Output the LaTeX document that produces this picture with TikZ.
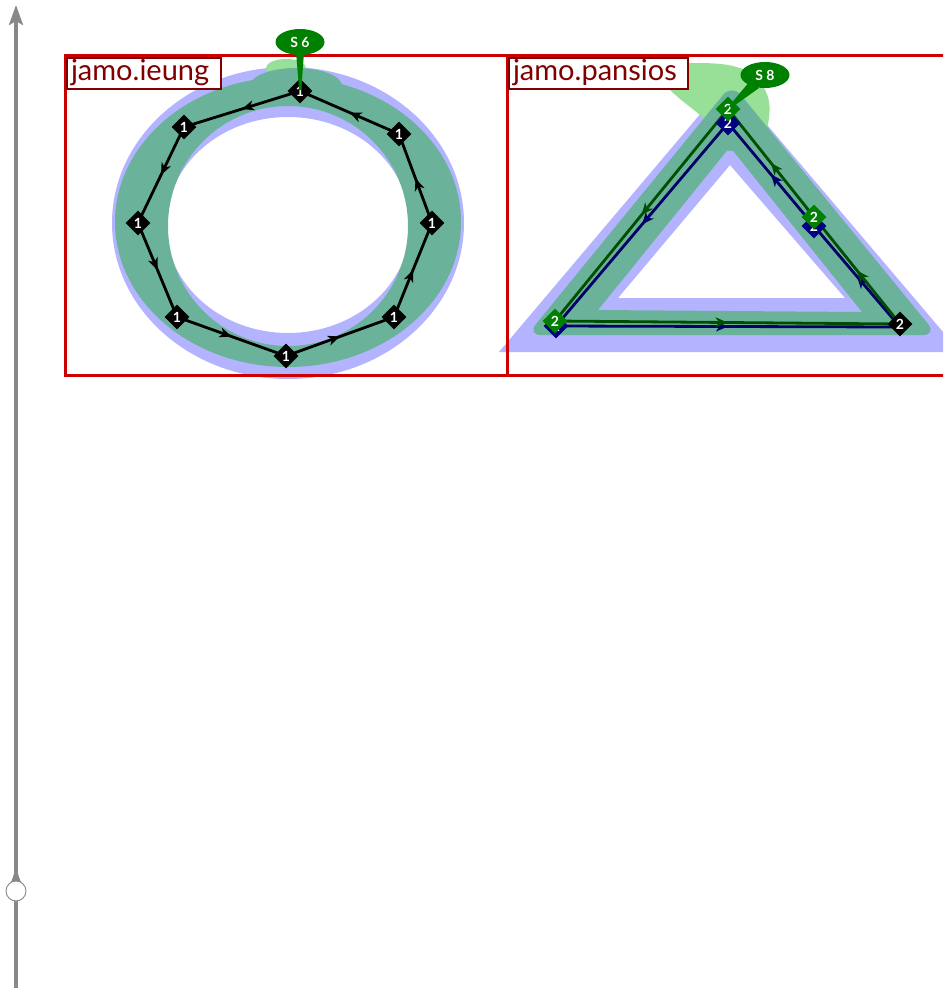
\documentclass[tikz,border=0pt]{standalone}
\usepackage{fontspec}
\setmainfont{Lato}
\usetikzlibrary{shapes.geometric,arrows.meta,decorations.markings}
\definecolor{glblue}{HTML}{B3B3FF}
\definecolor{glteal}{HTML}{6AB39A}
\definecolor{gllight}{HTML}{98E098}
\definecolor{boxred}{HTML}{CC0000}
\definecolor{lblred}{HTML}{800000}
\definecolor{sgreen}{HTML}{008000}
\definecolor{pgreen}{HTML}{004F00}
\definecolor{pnavy}{HTML}{000066}
\definecolor{dnavy}{HTML}{000080}
\definecolor{axisgray}{HTML}{888888}
\begin{document}
\begin{tikzpicture}[x=1pt,y=-1pt,
  glyphbox/.style={draw=boxred, line width=3pt},
  namelbl/.style={draw=lblred, line width=2pt, fill=white, text=lblred, anchor=north west,
    inner xsep=4pt, inner ysep=0pt, minimum height=31pt, align=left,
    text height=21pt, text depth=7pt, font=\fontsize{29}{29}\selectfont},
  ptnode/.style={diamond, minimum size=25pt, inner sep=0pt, text=white,
    font=\fontsize{14}{14}\selectfont\bfseries},
  seg/.style={line width=2.8pt, postaction={decorate},
    decoration={markings, mark=at position 0.5 with {\arrow{Stealth[length=12pt,width=10pt,inset=3.5pt]}}}},
  callout/.style={ellipse, fill=sgreen, text=white, font=\fontsize{14}{14}\selectfont\bfseries,
    minimum width=49pt, minimum height=26pt, inner sep=0pt}
]
\useasboundingbox (0,0) rectangle (943,988);
\clip (0,0) rectangle (943,988);

% ---------- axis ----------
\coordinate (axbot) at (16,988);
\coordinate (axtop) at (16,5);
\draw[axisgray, line width=3.2pt, -{Stealth[length=20pt,width=14pt,inset=4pt]}] (axbot) -- (axtop);
\fill[axisgray] (14.4,870) -- (17.6,870) .. controls (18,878) and (22,882) .. (22,886) -- (10,886) .. controls (10,882) and (14,878) .. (14.4,870) -- cycle;
\node[circle, draw=axisgray, fill=white, minimum size=20pt, inner sep=0pt, line width=0.9pt] (axknob) at (16,891) {};

% ---------- glyph 1 : ieung ----------
\fill[glblue, even odd rule] (288,223) ellipse [x radius=176, y radius=156]
                              (288,225) ellipse [x radius=122, y radius=108];
\fill[gllight] (286,68) ellipse [x radius=20, y radius=9];
\fill[glteal, even odd rule] (288,222) ellipse [x radius=173, y radius=145]
                              (288,226) ellipse [x radius=120, y radius=120];
\fill[glteal] (296,86) ellipse [x radius=46, y radius=18];

% ---------- glyph 2 : pansios ----------
\fill[glblue, even odd rule] (499,352) -- (960,352) -- (729,80) -- cycle
                              (618,298) -- (845,298) -- (730,165) -- cycle;
\fill[gllight] plot[smooth cycle, tension=0.7] coordinates
  {(652,68) (692,63) (740,68) (764,88) (769,118) (757,146) (730,140) (700,115) (670,90)};
\fill[glteal, even odd rule, rounded corners=14pt] (527,335) -- (937,335) -- (732,84) -- cycle
  [sharp corners] (598,310) -- (862,312) -- (730,147) -- cycle;
\fill[glteal] (730,140) circle [radius=11];

% ---------- frames ----------
\draw[glyphbox] (65,55) rectangle (507,375);
\draw[glyphbox] (507,55) rectangle (960,375);
\node[namelbl, text width=146pt] (lblA) at (66,57) {jamo.ieung};
\node[namelbl, text width=171pt] (lblB) at (508,57) {jamo.pansios};

% ---------- contour of ieung ----------
\coordinate (c1) at (300,91);
\coordinate (c2) at (184,127);
\coordinate (c3) at (138,223);
\coordinate (c4) at (177,317);
\coordinate (c5) at (286,356);
\coordinate (c6) at (394,317);
\coordinate (c7) at (432,223);
\coordinate (c8) at (399,134);
\foreach \a/\b in {c1/c2,c2/c3,c3/c4,c4/c5,c5/c6,c6/c7,c7/c8,c8/c1}
  \draw[seg, black] (\a) -- (\b);
\foreach \c in {c1,c2,c3,c4,c5,c6,c7,c8}
  \node[ptnode, fill=black] (n\c) at (\c) {1};

% callout S 6
\node[callout] (s6) at (300,42) {S 6};
\fill[sgreen] (296,52) -- (304,52) -- (301.3,90) -- (299.2,90) -- cycle;

% ---------- contours of pansios ----------
\coordinate (v1) at (728,123);
\coordinate (v2) at (556,326);
\coordinate (v3) at (900,327);
\coordinate (v4) at (814,226);
\coordinate (g1) at (728,109);
\coordinate (g2) at (555,321);
\coordinate (g3) at (900,324);
\coordinate (g4) at (814,217);
\foreach \a/\b in {v1/v2,v2/v3,v3/v4,v4/v1}
  \draw[seg, pnavy] (\a) -- (\b);
\foreach \a/\b in {g1/g2,g2/g3,g3/g4,g4/g1}
  \draw[seg, pgreen] (\a) -- (\b);
\foreach \c in {v1,v2,v4}
  \node[ptnode, fill=dnavy] (n\c) at (\c) {2};
\foreach \c in {g1,g2,g4}
  \node[ptnode, fill=sgreen] (n\c) at (\c) {2};
\node[ptnode, fill=black] (ng3) at (g3) {2};

% callout S 8
\fill[sgreen] (750,81) -- (759,88) -- (731,108) -- (729,106) -- cycle;
\node[callout] (s8) at (765,75) {S 8};
\end{tikzpicture}
\end{document}
